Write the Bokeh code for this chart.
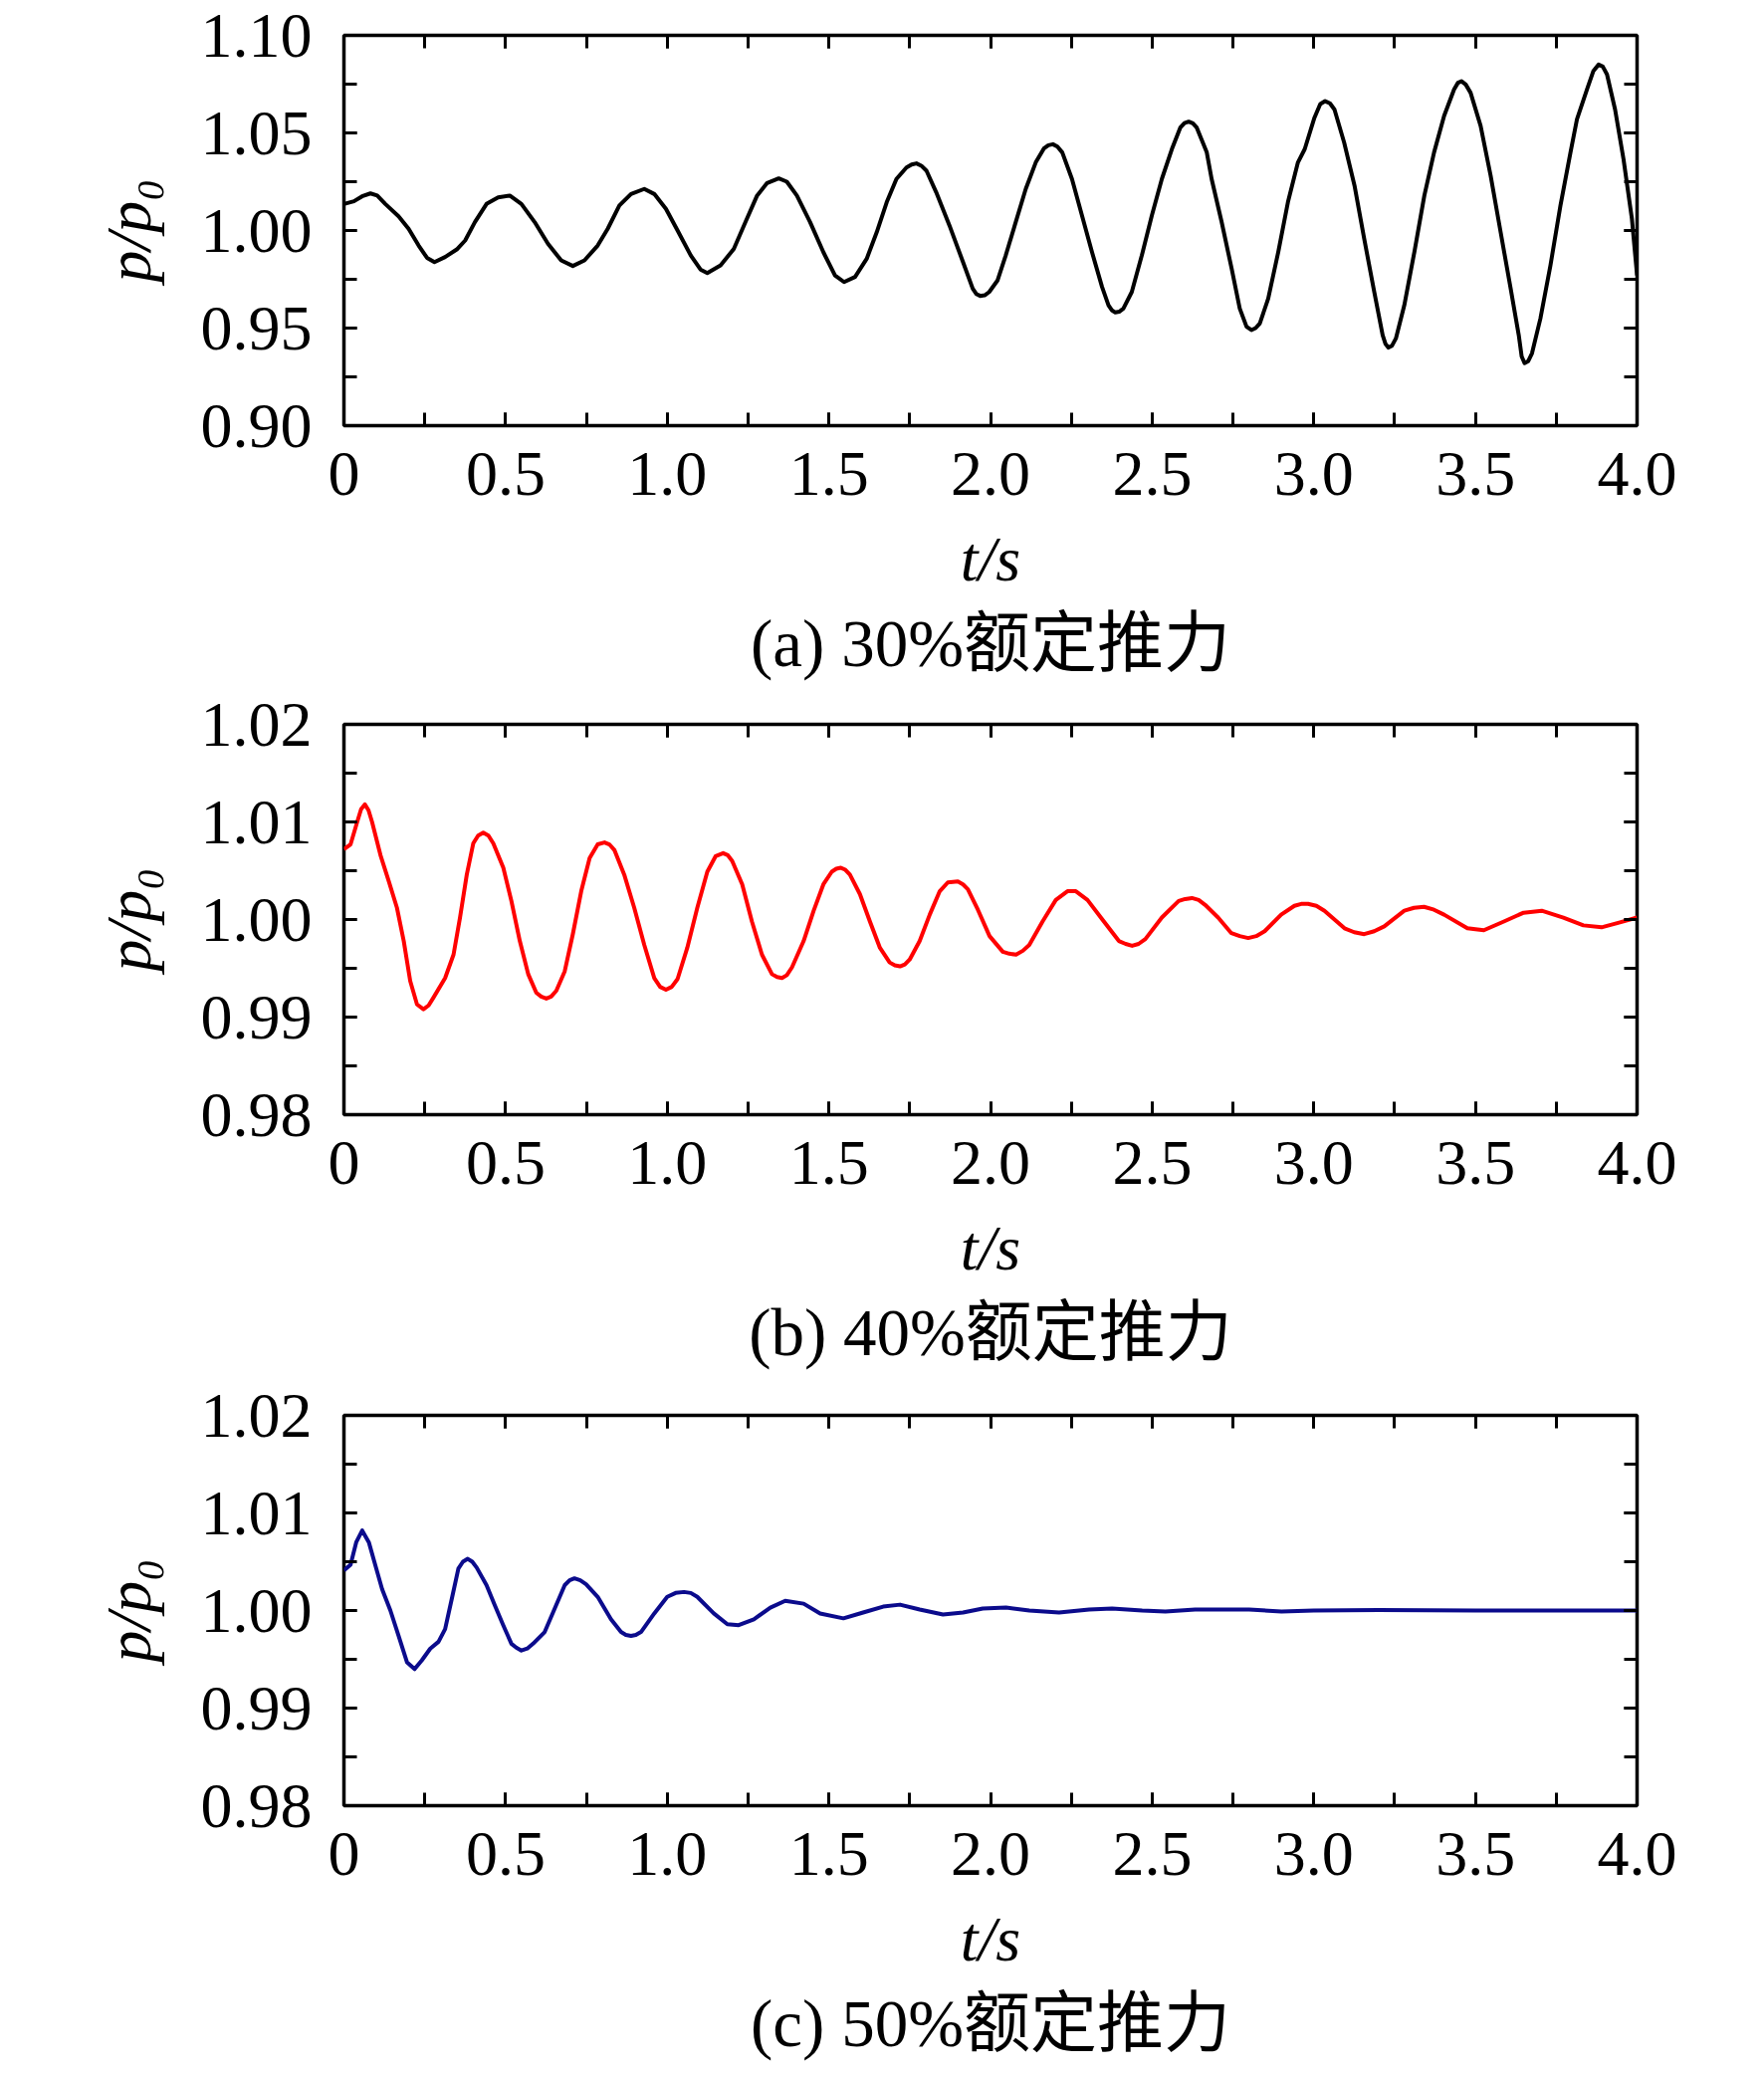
from bokeh.plotting import figure
from bokeh.models import (Range1d, SingleIntervalTicker, LinearAxis, Title,
                          NumeralTickFormatter, CustomJSTickFormatter)
from bokeh.layouts import column
from bokeh.embed import file_html
from bokeh.resources import INLINE

# ---------------- data ----------------
t_a = [0, 0.031, 0.056, 0.082, 0.103, 0.128, 0.169, 0.200, 0.231, 0.257, 0.280, 0.313,
       0.349, 0.375, 0.405, 0.441, 0.477, 0.513, 0.549, 0.590, 0.631, 0.672, 0.708, 0.744,
       0.785, 0.816, 0.852, 0.888, 0.929, 0.960, 0.996, 1.032, 1.073, 1.103, 1.124, 1.165,
       1.206, 1.242, 1.278, 1.309, 1.345, 1.370, 1.401, 1.442, 1.483, 1.519, 1.547, 1.581,
       1.617, 1.648, 1.679, 1.709, 1.740, 1.756, 1.771, 1.786, 1.802, 1.832, 1.873, 1.915,
       1.945, 1.956, 1.968, 1.982, 1.996, 2.022, 2.047, 2.078, 2.109, 2.140, 2.165, 2.179,
       2.193, 2.207, 2.222, 2.252, 2.283, 2.314, 2.345, 2.365, 2.375, 2.386, 2.398, 2.411,
       2.437, 2.468, 2.499, 2.530, 2.561, 2.587, 2.600, 2.613, 2.626, 2.638, 2.669, 2.684,
       2.715, 2.746, 2.771, 2.792, 2.807, 2.820, 2.833, 2.859, 2.890, 2.920, 2.951, 2.972,
       3.002, 3.020, 3.035, 3.050, 3.064, 3.094, 3.126, 3.156, 3.187, 3.213, 3.222, 3.231,
       3.242, 3.254, 3.280, 3.311, 3.342, 3.372, 3.403, 3.434, 3.446, 3.457, 3.470, 3.485,
       3.516, 3.547, 3.578, 3.609, 3.634, 3.643, 3.652, 3.663, 3.675, 3.701, 3.732, 3.763,
       3.794, 3.814, 3.845, 3.865, 3.881, 3.894, 3.907, 3.932, 3.958, 3.984, 4.0]
p_a = [1.0136, 1.0150, 1.0175, 1.0190, 1.0179, 1.0136, 1.0073, 1.0009, 0.9923, 0.9860, 0.9838, 0.9864,
       0.9903, 0.9949, 1.0043, 1.0136, 1.0170, 1.0179, 1.0136, 1.0043, 0.9932, 0.9847, 0.9818, 0.9847,
       0.9923, 1.0009, 1.0128, 1.0187, 1.0213, 1.0187, 1.0111, 1.0000, 0.9872, 0.9800, 0.9782, 0.9821,
       0.9906, 1.0043, 1.0179, 1.0243, 1.0267, 1.0250, 1.0179, 1.0043, 0.9889, 0.9770, 0.9736, 0.9762,
       0.9855, 0.9991, 1.0145, 1.0264, 1.0323, 1.0338, 1.0344, 1.0332, 1.0306, 1.0196, 1.0026, 0.9838,
       0.9702, 0.9675, 0.9665, 0.9668, 0.9685, 0.9745, 0.9872, 1.0043, 1.0213, 1.0349, 1.0420, 1.0437,
       1.0442, 1.0430, 1.0400, 1.0264, 1.0077, 0.9889, 0.9711, 0.9617, 0.9592, 0.9580, 0.9584, 0.9600,
       0.9685, 0.9872, 1.0077, 1.0264, 1.0417, 1.0527, 1.0550, 1.0558, 1.0549, 1.0527, 1.0400, 1.0264,
       1.0043, 0.9804, 0.9600, 0.9507, 0.9490, 0.9500, 0.9524, 0.9651, 0.9889, 1.0145, 1.0349, 1.0417,
       1.0578, 1.0648, 1.0663, 1.0652, 1.0620, 1.0450, 1.0230, 0.9957, 0.9685, 0.9464, 0.9418, 0.9400,
       0.9410, 0.9447, 0.9617, 0.9889, 1.0179, 1.0400, 1.0587, 1.0723, 1.0757, 1.0765, 1.0748, 1.0706,
       1.0536, 1.0281, 0.9991, 0.9702, 0.9464, 0.9355, 0.9320, 0.9330, 0.9371, 0.9549, 0.9821, 1.0128,
       1.0400, 1.0570, 1.0723, 1.0818, 1.0850, 1.0840, 1.0800, 1.0620, 1.0366, 1.0060, 0.9770]

t_b = [0, 0.0205, 0.041, 0.053, 0.0647, 0.076, 0.087, 0.113, 0.139, 0.164, 0.185, 0.205,
       0.226, 0.246, 0.262, 0.277, 0.313, 0.339, 0.359, 0.380, 0.400, 0.415, 0.431, 0.447,
       0.462, 0.493, 0.518, 0.544, 0.570, 0.595, 0.610, 0.626, 0.641, 0.657, 0.683, 0.708,
       0.734, 0.760, 0.785, 0.806, 0.821, 0.837, 0.867, 0.898, 0.929, 0.960, 0.978, 0.996,
       1.014, 1.032, 1.062, 1.093, 1.124, 1.150, 1.173, 1.187, 1.201, 1.232, 1.262, 1.293,
       1.324, 1.340, 1.355, 1.370, 1.386, 1.422, 1.453, 1.483, 1.509, 1.523, 1.537, 1.551,
       1.565, 1.596, 1.627, 1.658, 1.688, 1.704, 1.720, 1.735, 1.750, 1.781, 1.812, 1.843,
       1.868, 1.899, 1.915, 1.930, 1.961, 1.997, 2.038, 2.058, 2.079, 2.100, 2.120, 2.161,
       2.202, 2.238, 2.264, 2.300, 2.346, 2.397, 2.418, 2.438, 2.458, 2.479, 2.530, 2.582,
       2.602, 2.623, 2.644, 2.664, 2.704, 2.745, 2.771, 2.797, 2.822, 2.848, 2.899, 2.940,
       2.961, 2.982, 3.008, 3.033, 3.095, 3.125, 3.156, 3.187, 3.218, 3.280, 3.310, 3.341,
       3.372, 3.403, 3.475, 3.500, 3.526, 3.588, 3.649, 3.705, 3.772, 3.834, 3.890, 3.947,
       4.0]
p_b = [1.0072, 1.0077, 1.0100, 1.0113, 1.0118, 1.0112, 1.0100, 1.0066, 1.0039, 1.0012, 0.9978, 0.9937,
       0.9913, 0.9908, 0.9912, 0.9920, 0.9940, 0.9964, 1.0002, 1.0046, 1.0078, 1.0086, 1.0089, 1.0086,
       1.0078, 1.0053, 1.0019, 0.9978, 0.9944, 0.9925, 0.9921, 0.9919, 0.9921, 0.9927, 0.9947, 0.9985,
       1.0029, 1.0063, 1.0077, 1.0079, 1.0077, 1.0071, 1.0046, 1.0012, 0.9974, 0.9940, 0.9931, 0.9928,
       0.9931, 0.9939, 0.9971, 1.0012, 1.0049, 1.0065, 1.0068, 1.0066, 1.0060, 1.0036, 0.9998, 0.9964,
       0.9944, 0.9941, 0.9940, 0.9943, 0.9951, 0.9978, 1.0009, 1.0036, 1.0049, 1.0052, 1.0053, 1.0051,
       1.0046, 1.0026, 0.9998, 0.9971, 0.9956, 0.9953, 0.9952, 0.9954, 0.9959, 0.9978, 1.0005, 1.0029,
       1.0038, 1.0039, 1.0036, 1.0031, 1.0010, 0.9983, 0.9967, 0.9965, 0.9964, 0.9968, 0.9974, 0.9998,
       1.0020, 1.0029, 1.0029, 1.0020, 1.0000, 0.9978, 0.9975, 0.9973, 0.9975, 0.9980, 1.0002, 1.0019,
       1.0021, 1.0022, 1.0020, 1.0015, 1.0002, 0.9986, 0.9983, 0.9981, 0.9983, 0.9988, 1.0005, 1.0014,
       1.0016, 1.0016, 1.0014, 1.0009, 0.9991, 0.9987, 0.9985, 0.9988, 0.9993, 1.0009, 1.0012, 1.0013,
       1.0010, 1.0005, 0.9991, 0.9990, 0.9989, 0.9998, 1.0007, 1.0009, 1.0002, 0.9994, 0.9992, 0.9997,
       1.0002]

t_c = [0, 0.0205, 0.038, 0.0565, 0.077, 0.0975, 0.118, 0.1437, 0.169, 0.195, 0.2186, 0.241,
       0.267, 0.2925, 0.313, 0.3336, 0.354, 0.368, 0.383, 0.397, 0.4106, 0.441, 0.467, 0.4927,
       0.518, 0.533, 0.549, 0.567, 0.585, 0.621, 0.652, 0.683, 0.698, 0.713, 0.731, 0.749,
       0.785, 0.826, 0.857, 0.872, 0.888, 0.903, 0.919, 0.960, 1.000, 1.026, 1.052, 1.073,
       1.093, 1.144, 1.186, 1.221, 1.268, 1.319, 1.365, 1.422, 1.473, 1.545, 1.606, 1.668,
       1.720, 1.781, 1.853, 1.915, 1.976, 2.048, 2.120, 2.212, 2.305, 2.376, 2.469, 2.541,
       2.633, 2.725, 2.800, 2.900, 3.000, 3.200, 3.500, 4.000]
p_c = [1.0041, 1.0047, 1.0070, 1.0082, 1.0070, 1.0046, 1.0022, 1.0000, 0.9974, 0.9947, 0.9940, 0.9949,
       0.9961, 0.9968, 0.9981, 1.0012, 1.0043, 1.0050, 1.0053, 1.0050, 1.0044, 1.0026, 1.0005, 0.9985,
       0.9966, 0.9962, 0.9959, 0.9961, 0.9966, 0.9978, 1.0002, 1.0026, 1.0031, 1.0033, 1.0031, 1.0027,
       1.0014, 0.9991, 0.9978, 0.9975, 0.9974, 0.9975, 0.9978, 0.9997, 1.0014, 1.0018, 1.0019, 1.0018,
       1.0014, 0.9997, 0.9986, 0.9985, 0.9991, 1.0003, 1.0010, 1.0007, 0.9997, 0.9992, 0.9998, 1.0004,
       1.0006, 1.0001, 0.9996, 0.9998, 1.0002, 1.0003, 1.0000, 0.9998, 1.0001, 1.0002, 1.0000, 0.9999,
       1.0001, 1.0001, 1.0001, 0.9999, 1.0000, 1.00005, 1.0000, 1.0000]

x_ticks_interval = 0.5
captions = ["(a) 30%额定推力", "(b) 40%额定推力", "(c) 50%额定推力"]
y_ranges = [(0.90, 1.10, 0.05), (0.98, 1.02, 0.01), (0.98, 1.02, 0.01)]
colors = ["#000000", "#ff0000", "#0b0b8c"]
x_label = "t/s"
y_label = "p/p\u2080"

SERIF = "Liberation Serif"
CAP_FONT = "'Liberation Serif', 'Noto Sans CJK SC'"
FS = "64px"

FRAME_W, FRAME_H = 1299, 392
TOP, LEFT, RIGHT = 35, 345, 110


def style_axis(ax, labels=True):
    ax.axis_line_color = None
    ax.major_tick_in = 13
    ax.major_tick_out = 0
    ax.minor_tick_in = 13
    ax.minor_tick_out = 0
    ax.major_tick_line_width = 3
    ax.minor_tick_line_width = 3
    ax.major_tick_line_color = "black"
    ax.minor_tick_line_color = "black"
    if labels:
        ax.major_label_text_font = SERIF
        ax.major_label_text_font_size = FS
        ax.major_label_text_color = "black"
        ax.axis_label_text_font = SERIF
        ax.axis_label_text_font_size = FS
        ax.axis_label_text_font_style = "italic"
        ax.axis_label_text_color = "black"
    else:
        ax.major_label_text_font_size = "0px"
        ax.major_label_standoff = 0
        ax.formatter = CustomJSTickFormatter(code="return ''")


def panel(t, p, color, yr, caption, height):
    y0, y1, yint = yr
    fig = figure(output_backend="svg", toolbar_location=None,
                 frame_width=FRAME_W, frame_height=FRAME_H,
                 min_border_left=LEFT, min_border_right=RIGHT,
                 min_border_top=TOP, min_border_bottom=height - TOP - FRAME_H,
                 x_range=Range1d(0, 4), y_range=Range1d(y0, y1))
    fig.grid.visible = False
    fig.outline_line_color = "black"
    fig.outline_line_width = 3.5
    fig.outline_line_alpha = 1
    fig.background_fill_color = "white"
    fig.border_fill_color = "white"

    xax = fig.xaxis[0]
    xax.ticker = SingleIntervalTicker(interval=x_ticks_interval, num_minor_ticks=2)
    xax.formatter = NumeralTickFormatter(format="0.0")
    xax.major_label_overrides = {0: "0"}
    style_axis(xax)
    xax.major_label_standoff = 27
    xax.axis_label = x_label
    xax.axis_label_standoff = 26

    yax = fig.yaxis[0]
    yax.ticker = SingleIntervalTicker(interval=yint, num_minor_ticks=2)
    yax.formatter = NumeralTickFormatter(format="0.00")
    style_axis(yax)
    yax.major_label_standoff = 32
    yax.axis_label = y_label
    yax.axis_label_standoff = 34

    top = LinearAxis(ticker=SingleIntervalTicker(interval=x_ticks_interval, num_minor_ticks=2))
    style_axis(top, labels=False)
    fig.add_layout(top, "above")
    right = LinearAxis(ticker=SingleIntervalTicker(interval=yint, num_minor_ticks=2))
    style_axis(right, labels=False)
    fig.add_layout(right, "right")

    fig.line(t, p, line_color=color, line_width=4, line_join="round")

    cap = Title(text=caption, align="center", text_font=CAP_FONT,
                text_font_size="67px", text_font_style="normal",
                text_color="black", standoff=14)
    fig.add_layout(cap, "below")
    return fig


figs = [panel(t_a, p_a, colors[0], y_ranges[0], captions[0], 692),
        panel(t_b, p_b, colors[1], y_ranges[1], captions[1], 694),
        panel(t_c, p_c, colors[2], y_ranges[2], captions[2], 698)]

layout = column(*figs, spacing=0)
open("out.html", "w").write(file_html(layout, INLINE))
